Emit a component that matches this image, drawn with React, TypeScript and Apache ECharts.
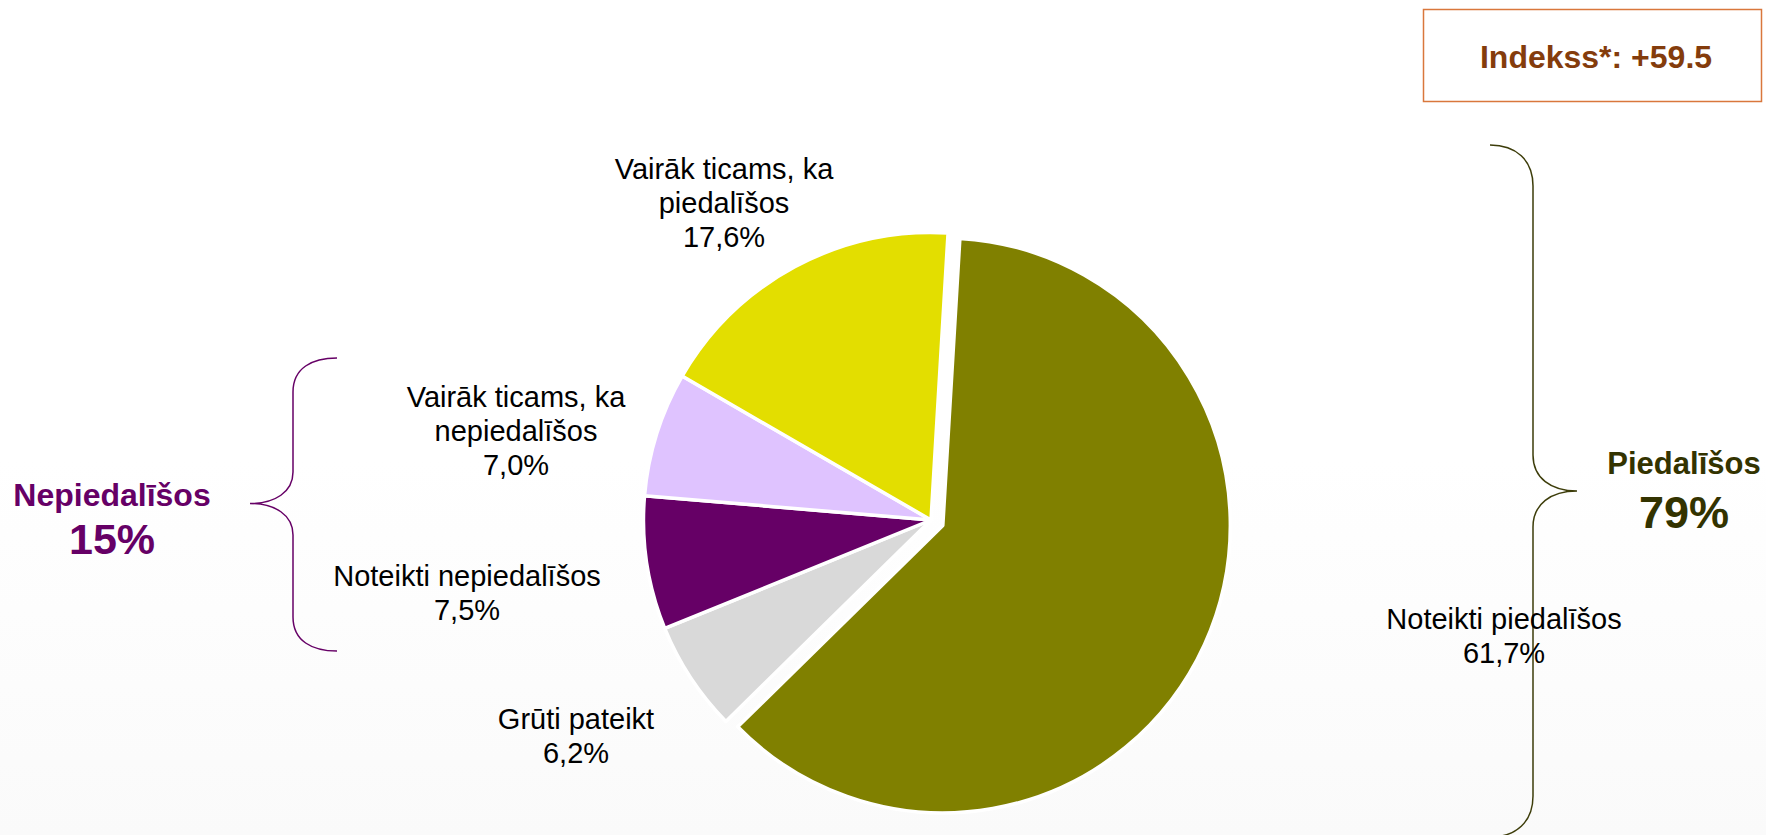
import { useEffect, useRef } from 'react';
import * as echarts from 'echarts';

const categories = [
  'Noteikti piedalīšos',
  'Grūti pateikt',
  'Noteikti nepiedalīšos',
  'Vairāk ticams, ka nepiedalīšos',
  'Vairāk ticams, ka piedalīšos',
];
const values = [61.7, 6.2, 7.5, 7.0, 17.6];
const colors = ['#808000', '#D9D9D9', '#660066', '#DFC3FF', '#E3DE00'];
const groupNames = ['Nepiedalīšos', 'Piedalīšos'];
const groupValues = [15, 79];
const indexText = 'Indekss*: +59.5';

// label anchor positions (layout only)
const labelAnchors = [
  [1504, 636],
  [576, 736],
  [467, 593],
  [516, 431],
  [724, 203],
];

const FONT = '"Liberation Sans", Arial, Helvetica, sans-serif';
const CENTER = [931, 520];
const RADIUS = 287.5;
const START = 86.6;
const EXPLODE = 13;

echarts.graphic.registerShape(
  'braceLeft',
  echarts.graphic.extendPath(
    'M337,358 C312,358 293,368 293,392 L293,472 C293,492 275,503.5 250,503.5 C275,503.5 293,515 293,535 L293,617 C293,641 312,651 337,651',
    {}
  )
);
echarts.graphic.registerShape(
  'braceRight',
  echarts.graphic.extendPath(
    'M1490,145 C1516,145 1533,160 1533,186 L1533,455 C1533,478 1551,491 1577,491 C1551,491 1533,504 1533,527 L1533,796 C1533,822 1516,837 1490,837',
    {}
  )
);

const fmt = (v: number) => v.toFixed(1).replace('.', ',') + '%';

export default function App() {
  const ref = useRef<HTMLDivElement>(null);
  useEffect(() => {
    if (!ref.current) return;
    const chart = echarts.init(ref.current, null, { renderer: 'svg' });
    const total = values.reduce((a, b) => a + b, 0);
    const midDeg = START - (values[0] / total) * 180;
    const midRad = (midDeg * Math.PI) / 180;
    const explodedCenter = [
      CENTER[0] + EXPLODE * Math.cos(midRad),
      CENTER[1] - EXPLODE * Math.sin(midRad),
    ];

    const makeData = (explodedOnly: boolean) =>
      categories.map((name, i) => {
        const visible = explodedOnly ? i === 0 : i !== 0;
        return {
          name,
          value: values[i],
          itemStyle: visible
            ? { color: colors[i], borderColor: '#ffffff', borderWidth: 3.5 }
            : { color: 'rgba(0,0,0,0)', borderWidth: 0 },
          label: { show: visible },
        };
      });

    const baseSeries = {
      type: 'pie',
      radius: RADIUS,
      startAngle: START,
      clockwise: true,
      avoidLabelOverlap: false,
      silent: true,
      emphasis: { disabled: true },
      label: {
        show: true,
        position: 'inside',
        color: '#000000',
        fontFamily: FONT,
        fontSize: 29,
        lineHeight: 34,
        align: 'center',
        overflow: 'none',
        formatter: (p: any) => p.name.replace(', ka ', ', ka\n') + '\n' + fmt(p.value),
      },
      labelLine: { show: false },
      labelLayout: (p: any) => ({
        x: labelAnchors[p.dataIndex][0],
        y: labelAnchors[p.dataIndex][1],
        align: 'center',
        verticalAlign: 'middle',
      }),
    };

    chart.setOption({
      animation: false,
      backgroundColor: {
        type: 'linear',
        x: 0,
        y: 0,
        x2: 0,
        y2: 1,
        colorStops: [
          { offset: 0, color: '#ffffff' },
          { offset: 0.55, color: '#ffffff' },
          { offset: 1, color: '#fafafa' },
        ],
      },
      series: [
        { ...baseSeries, name: 'rest', center: CENTER, data: makeData(false) },
        { ...baseSeries, name: 'exploded', center: explodedCenter, data: makeData(true) },
      ],
      graphic: [
        {
          type: 'braceLeft',
          x: 0,
          y: 0,
          scaleX: 1,
          scaleY: 1,
          silent: true,
          style: { fill: 'none', stroke: '#660066', lineWidth: 1.5 },
        },
        {
          type: 'braceRight',
          x: 0,
          y: 0,
          scaleX: 1,
          scaleY: 1,
          silent: true,
          style: { fill: 'none', stroke: '#3d3d0a', lineWidth: 1.5 },
        },
        {
          type: 'text',
          x: 112,
          y: 495,
          style: {
            text: groupNames[0],
            fontFamily: FONT,
            fontSize: 32,
            fontWeight: 'bold',
            fill: '#660066',
            align: 'center',
            verticalAlign: 'middle',
          },
        },
        {
          type: 'text',
          x: 112,
          y: 539,
          style: {
            text: groupValues[0] + '%',
            fontFamily: FONT,
            fontSize: 43,
            fontWeight: 'bold',
            fill: '#660066',
            align: 'center',
            verticalAlign: 'middle',
          },
        },
        {
          type: 'text',
          x: 1684,
          y: 463,
          style: {
            text: groupNames[1],
            fontFamily: FONT,
            fontSize: 31,
            fontWeight: 'bold',
            fill: '#333300',
            align: 'center',
            verticalAlign: 'middle',
          },
        },
        {
          type: 'text',
          x: 1684,
          y: 512,
          style: {
            text: groupValues[1] + '%',
            fontFamily: FONT,
            fontSize: 45,
            fontWeight: 'bold',
            fill: '#333300',
            align: 'center',
            verticalAlign: 'middle',
          },
        },
        {
          type: 'rect',
          shape: { x: 1423.5, y: 9.5, width: 338, height: 92 },
          style: { fill: '#ffffff', stroke: '#D9773C', lineWidth: 1.5 },
        },
        {
          type: 'text',
          x: 1596,
          y: 57,
          style: {
            text: indexText,
            fontFamily: FONT,
            fontSize: 32,
            fontWeight: 'bold',
            fill: '#843C0C',
            align: 'center',
            verticalAlign: 'middle',
          },
        },
      ],
    });
    return () => chart.dispose();
  }, []);
  return (
    <div
      ref={ref}
      style={{ position: 'fixed', left: 0, top: 0, width: 1766, height: 835 }}
    />
  );
}
